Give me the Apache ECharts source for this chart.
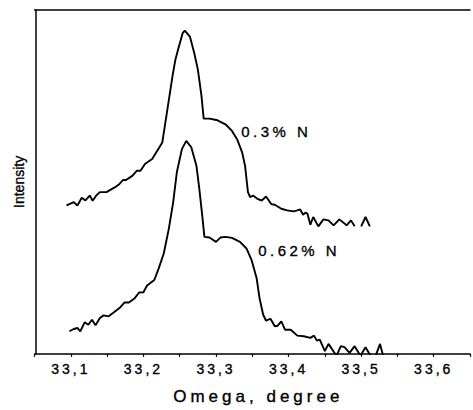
<!DOCTYPE html>
<html><head><meta charset="utf-8">
<script src="https://cdn.jsdelivr.net/npm/echarts@6/dist/echarts.min.js"></script>
<style>
html,body{margin:0;padding:0;background:#fff}
#c{width:473px;height:410px}
#c text{letter-spacing:3px}
</style>
</head><body><div id="c"></div><script>
// 0.3% N sample (upper curve), omega in degrees, intensity in arbitrary units
const omegaA = [33.094,33.104,33.109,33.115,33.120,33.126,33.130,33.135,33.140,33.149,33.161,33.167,33.172,33.176,33.185,33.191,33.196,33.202,33.212,33.219,33.226,33.233,33.240,33.244,33.248,33.254,33.257,33.264,33.270,33.275,33.280,33.283,33.291,33.302,33.313,33.322,33.329,33.336,33.340,33.344,33.347,33.351,33.357,33.363,33.369,33.376,33.381,33.390,33.398,33.407,33.412,33.416,33.420,33.423,33.426,33.430,33.434,33.441,33.448,33.455,33.462,33.470,33.480,33.486,33.491,33.495,33.500,33.506,33.512];
const intA   = [149.3,152.7,149.3,157,154.3,159.3,154,159.3,162.7,162.7,167.7,171,175,175,179.3,184.3,184.3,191,196,204.3,212.7,246,279.3,296,307,322.7,325.3,319.3,302.7,286,259.3,236.7,236.7,235,231,224.3,216,202.7,189.3,162.7,157.7,159.3,156,154.3,158.3,150.7,150,146,144.3,143.3,144.3,145.3,140,142,141,130,137.7,128.3,135.3,134.3,129.3,135.3,129.3,134.3,128.3,null,128.3,137.7,128.3];
// 0.62% N sample (lower curve)
const omegaB = [33.098,33.104,33.109,33.113,33.119,33.124,33.129,33.134,33.140,33.145,33.152,33.158,33.167,33.174,33.180,33.188,33.194,33.200,33.205,33.215,33.221,33.228,33.235,33.241,33.246,33.253,33.259,33.266,33.273,33.277,33.281,33.284,33.291,33.300,33.306,33.313,33.322,33.333,33.342,33.349,33.356,33.360,33.365,33.369,33.375,33.381,33.385,33.390,33.395,33.403,33.412,33.421,33.430,33.435,33.439,33.443,33.450,33.455,33.466,33.472,33.477,33.484,33.491,33.499,33.506,33.513,33.519,33.526,33.531];
const intB   = [22.7,25,26,22.7,31.7,29.3,34.3,28.7,36,38.7,37.7,41,46,51.7,51.7,56,61.7,62,68.7,74.3,86,101,126,152.7,182.7,206,214.3,207.7,189.3,166,139.3,117.7,117,112.7,117,117.7,116.7,112.7,106,94.3,76,56,39.3,33.3,35.3,27.7,28.3,32.7,24.3,24.3,18.3,17.7,16,18.3,13.3,14.3,2.7,10,-2,7.7,6.7,1,7.7,-2,6.7,-2,-4,10,-4];
const seriesNames = ['0.3% N','0.62% N'];
const xTitle = 'Omega, degree';
const yTitle = 'Intensity';

const zip = (xs, ys) => xs.map((x, i) => [x, ys[i]]);
const font = 'Arial, "Liberation Sans", sans-serif';
const chart = echarts.init(document.getElementById('c'), null, {renderer: 'svg'});
const lineStyle = {color: '#000', width: 1.9};
const heavy = {textBorderColor: '#000', textBorderWidth: 0.35};
chart.setOption({
  animation: false,
  backgroundColor: '#fff',
  grid: {left: 34.6, right: -7.4, top: 10, bottom: 54},
  xAxis: [{
    type: 'value', min: 33.05, max: 33.65, interval: 0.05,
    name: xTitle, nameLocation: 'middle', nameGap: 34,
    nameTextStyle: Object.assign({fontFamily: font, fontSize: 17, color: '#000', padding: [0, 0, 0, 12]}, heavy),
    axisLine: {lineStyle: {color: '#000', width: 1.5}},
    axisTick: {show: true, length: 3, inside: false, lineStyle: {color: '#000', width: 1.2}},
    axisLabel: Object.assign({
      margin: 8, fontFamily: font, fontSize: 14, color: '#000',
      formatter: v => { const k = Math.round(v * 100); return k % 10 === 0 ? (k / 100).toFixed(1).replace('.', ',') : ''; }
    }, heavy),
    splitLine: {show: false}
  }, {
    type: 'value', position: 'top', min: 33.05, max: 33.65,
    axisLine: {show: true, lineStyle: {color: '#000', width: 1.5}},
    axisTick: {show: false}, axisLabel: {show: false}, splitLine: {show: false}
  }],
  yAxis: {
    type: 'value', min: 0, max: 346, offset: -1,
    name: yTitle, nameLocation: 'middle', nameGap: 10, nameRotate: 90,
    nameTextStyle: Object.assign({fontFamily: font, fontSize: 14, color: '#000'}, heavy),
    axisLine: {show: true, lineStyle: {color: '#000', width: 1.5}},
    axisTick: {show: false}, axisLabel: {show: false}, splitLine: {show: false}
  },
  series: [
    {name: seriesNames[0], type: 'line', data: zip(omegaA, intA), showSymbol: false, symbol: 'none', lineStyle, connectNulls: false},
    {name: seriesNames[1], type: 'line', data: zip(omegaB, intB), showSymbol: false, symbol: 'none', lineStyle}
  ],
  graphic: [
    {type: 'text', left: 241, top: 123.5, style: Object.assign({text: seriesNames[0], font: '15px ' + font, fill: '#000', stroke: '#000', lineWidth: 0.35})},
    {type: 'text', left: 258, top: 243, style: Object.assign({text: seriesNames[1], font: '15px ' + font, fill: '#000', stroke: '#000', lineWidth: 0.35})}
  ]
});
function spacing() {
  document.querySelectorAll('#c text').forEach(t => {
    const s = t.textContent;
    if (s === yTitle) t.style.letterSpacing = '0px';
    else if (s === xTitle) t.style.letterSpacing = '4px';
    else if (seriesNames.includes(s)) t.style.letterSpacing = '3.5px';
  });
}
spacing();
chart.on('finished', spacing);
</script></body></html>
